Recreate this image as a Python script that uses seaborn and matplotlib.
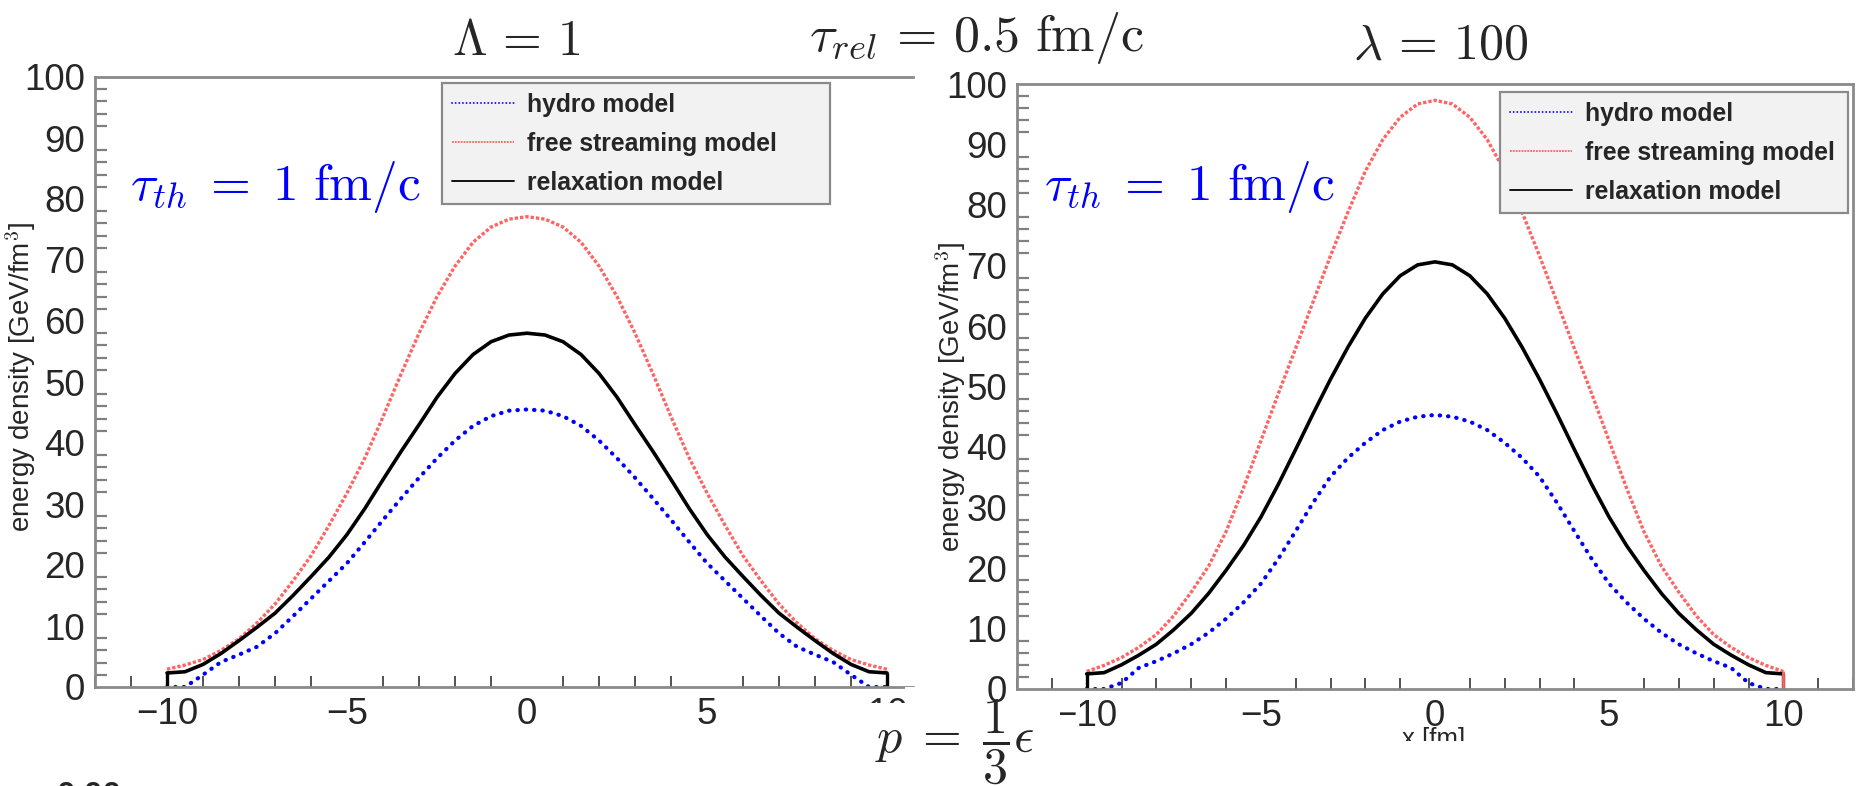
import numpy as np
import pandas as pd
import matplotlib
matplotlib.use("Agg")
import matplotlib.pyplot as plt
import seaborn as sns
from matplotlib.patches import Rectangle
from matplotlib.ticker import MultipleLocator

# sampled positions [fm]
x_fm = [-10.0, -9.5, -9.0, -8.5, -8.0, -7.5, -7.0, -6.5, -6.0, -5.5, -5.0,
        -4.5, -4.0, -3.5, -3.0, -2.5, -2.0, -1.5, -1.0, -0.5, 0.0,
        0.5, 1.0, 1.5, 2.0, 2.5, 3.0, 3.5, 4.0, 4.5, 5.0,
        5.5, 6.0, 6.5, 7.0, 7.5, 8.0, 8.5, 9.0, 9.5, 10.0]

# left panel (Lambda = 1), energy density [GeV/fm^3]
hydro_l = [0.0, 0.0, 2.0, 4.1, 5.3, 6.6, 8.8, 11.6, 14.5, 17.4, 20.3,
           23.8, 27.4, 30.9, 34.3, 37.5, 40.4, 42.8, 44.4, 45.3, 45.5,
           45.3, 44.4, 42.8, 40.4, 37.5, 34.3, 30.9, 27.4, 23.8, 20.3,
           17.4, 14.5, 11.6, 8.8, 6.6, 5.3, 4.1, 2.0, 0.0, 0.0]
free_l = [2.9, 3.6, 4.5, 6.0, 7.9, 10.5, 13.6, 17.4, 21.5, 26.5, 31.8,
          37.6, 44.3, 51.3, 58.0, 64.0, 69.0, 72.9, 75.4, 76.7, 77.1,
          76.7, 75.4, 72.9, 69.0, 64.0, 58.0, 51.3, 44.3, 37.6, 31.8,
          26.5, 21.5, 17.4, 13.6, 10.5, 7.9, 6.0, 4.5, 3.6, 2.9]
relax_l = [2.3, 2.5, 3.7, 5.5, 7.6, 9.8, 12.1, 15.0, 18.1, 21.3, 25.0,
           29.3, 34.0, 38.6, 43.0, 47.5, 51.4, 54.5, 56.6, 57.7, 58.0,
           57.7, 56.6, 54.5, 51.4, 47.5, 43.0, 38.6, 34.0, 29.3, 25.0,
           21.3, 18.1, 15.0, 12.1, 9.8, 7.6, 5.5, 3.7, 2.5, 2.3]

# right panel (lambda = 100)
hydro_r = [0.0, 0.0, 1.0, 3.5, 4.6, 5.9, 7.4, 9.3, 11.6, 14.3, 17.4,
           21.5, 26.1, 30.8, 35.1, 38.2, 40.7, 42.8, 44.2, 45.0, 45.3,
           45.0, 44.2, 42.8, 40.7, 38.2, 35.1, 30.8, 26.1, 21.5, 17.4,
           14.3, 11.6, 9.3, 7.4, 5.9, 4.6, 3.5, 1.0, 0.0, 0.0]
free_r = [2.9, 3.9, 5.2, 6.9, 9.0, 12.1, 16.0, 20.3, 26.0, 33.2, 41.0,
          48.8, 56.3, 64.0, 71.6, 78.8, 85.6, 90.8, 94.5, 96.7, 97.3,
          96.7, 94.5, 90.8, 85.6, 78.8, 71.6, 64.0, 56.3, 48.8, 41.0,
          33.2, 26.0, 20.3, 16.0, 12.1, 9.0, 6.9, 5.2, 3.9, 2.9]
relax_r = [2.5, 2.7, 4.0, 5.6, 7.4, 9.8, 12.5, 15.8, 19.6, 23.7, 28.4,
           33.8, 39.6, 45.5, 51.2, 56.5, 61.3, 65.3, 68.3, 70.1, 70.6,
           70.1, 68.3, 65.3, 61.3, 56.5, 51.2, 45.5, 39.6, 33.8, 28.4,
           23.7, 19.6, 15.8, 12.5, 9.8, 7.4, 5.6, 4.0, 2.7, 2.5]

labels = ["hydro model", "free streaming model", "relaxation model"]

sns.set_style("white")
plt.rcParams["font.family"] = ["Liberation Sans", "DejaVu Sans"]
plt.rcParams["mathtext.fontset"] = "cm"

W, H = 1860, 786
fig = plt.figure(figsize=(W / 100, H / 100), dpi=100)
fig.patch.set_facecolor("white")


def box(x0, y0, x1, y1):
    # pixel box (top-left origin) -> figure fraction rect
    return [x0 / W, 1 - y1 / H, (x1 - x0) / W, (y1 - y0) / H]


ax_l = fig.add_axes(box(95, 77, 913, 687), zorder=0)
ax_r = fig.add_axes(box(1017, 84, 1853, 689), zorder=2)

styles = [
    dict(color="#0000ff", linewidth=3.0, linestyle=(0, (0.1, 1.9)),
         dash_capstyle="round"),
    dict(color="#ff6464", linewidth=2.4, linestyle=(0, (1, 0.6))),
    dict(color="black", linewidth=2.6, linestyle="-"),
]

panels = [(ax_l, [hydro_l, free_l, relax_l], 10.72),
          (ax_r, [hydro_r, free_r, relax_r], 12.0)]

for ax, series, xmax in panels:
    for vals, lab, st in zip(series, labels, styles):
        df = pd.DataFrame({"x": x_fm, "e": vals})
        sns.lineplot(data=df, x="x", y="e", ax=ax, label=lab, **st)
    relax = series[2]
    ax.vlines([x_fm[0], x_fm[-1]], 0, [relax[0], relax[-1]],
              color="black", linewidth=2.4)
    ax.set_xlim(-12, xmax)
    ax.set_ylim(0, 100)
    ax.set_xlabel("")
    ax.set_ylabel("")
    ax.xaxis.set_major_locator(MultipleLocator(5))
    ax.xaxis.set_minor_locator(MultipleLocator(1))
    ax.yaxis.set_major_locator(MultipleLocator(10))
    ax.yaxis.set_minor_locator(MultipleLocator(2))
    ax.tick_params(axis="y", which="major", direction="in", length=18,
                   width=1.6, color="#808080", labelsize=26.5, pad=7)
    ax.tick_params(axis="y", which="minor", direction="in", length=8.5,
                   width=1.6, color="#808080", left=True)
    ax.tick_params(axis="x", which="major", direction="in", length=13.5,
                   width=1.3, color="#444444", labelsize=26.5, pad=7)
    ax.tick_params(axis="x", which="minor", direction="in", length=8,
                   width=1.3, color="#444444", bottom=True)
    for s in ["left", "bottom", "top", "right"]:
        ax.spines[s].set_color("#8a8a8a")
        ax.spines[s].set_linewidth(2)
    ax.set_facecolor("white")

ax_l.spines["right"].set_visible(False)
# free streaming curve drops to zero at the right edge of the second panel
ax_r.vlines([x_fm[-1]], 0, [free_r[-1]], color="#ff6464", linewidth=2)

legend_boxes = [(ax_l, box(442, 83, 830, 207)), (ax_r, box(1500, 92, 1848, 202))]
for ax, b in legend_boxes:
    leg = ax.legend(loc="upper left", bbox_to_anchor=b, mode="expand",
                    bbox_transform=fig.transFigure, borderaxespad=0,
                    prop={"weight": "bold", "size": 17.8}, frameon=True,
                    fancybox=False, handlelength=2.5, handletextpad=0.55,
                    labelspacing=0.6, borderpad=0.4)
    fr = leg.get_frame()
    fr.set_facecolor("#f2f2f2")
    fr.set_edgecolor("#8a8a8a")
    fr.set_linewidth(1.6)
    fr.set_alpha(1)
    for ln in leg.get_lines():
        ln.set_linewidth(1.3)

# white area of the second panel covering the first one's right edge
fig.add_artist(Rectangle((905 / W, 1 - 745 / H), 95 / W, 58 / H,
                         transform=fig.transFigure, facecolor="white",
                         edgecolor="none", zorder=1))

# y-axis titles
fig.text(21 / W, 1 - 377 / H, "energy density [GeV/fm$^3$]", rotation=90,
         ha="center", va="center", fontsize=20, zorder=5)
fig.text(951 / W, 1 - 397 / H, "energy density [GeV/fm$^3$]", rotation=90,
         ha="center", va="center", fontsize=20, zorder=5)

# x-axis title of the second panel, clipped at the bottom
fig.text(1434 / W, 1 - 727 / H, "x [fm]", ha="center", va="top",
         fontsize=18.5, zorder=2.5)
fig.add_artist(Rectangle((1100 / W, 0), 760 / W, 1 - 741 / H,
                         transform=fig.transFigure, facecolor="white",
                         edgecolor="none", zorder=3))

# annotations
fig.text(516 / W, 1 - 42 / H, r"$\Lambda\,=\,1$", ha="center", va="center",
         fontsize=36, zorder=6)
fig.text(976 / W, 1 - 38 / H, r"$\tau_{rel}\,=\,0.5\ \mathrm{fm/c}$",
         ha="center", va="center", fontsize=37.5, zorder=6)
fig.text(1441 / W, 1 - 46 / H, r"$\lambda\,=\,100$", ha="center", va="center",
         fontsize=36, zorder=6)
for xc in (275, 1189):
    fig.text(xc / W, 1 - 187 / H, r"$\tau_{th}\;=\;1\ \mathrm{fm/c}$",
             ha="center", va="center", fontsize=37, color="#0000ff", zorder=6)

fig.add_artist(Rectangle((848 / W, 0), 212 / W, 1 - 703 / H,
                         transform=fig.transFigure, facecolor="white",
                         edgecolor="none", zorder=4))
fig.text(955 / W, 1 - 752 / H, r"$p\;=\;\dfrac{1}{3}\epsilon$", ha="center",
         va="baseline", fontsize=36, zorder=6)

fig.text(57 / W, 1 - 781 / H, "0.00", ha="left", va="top", fontsize=24,
         fontweight="bold", zorder=6)

fig.savefig("out.png", dpi=100, facecolor="white")
